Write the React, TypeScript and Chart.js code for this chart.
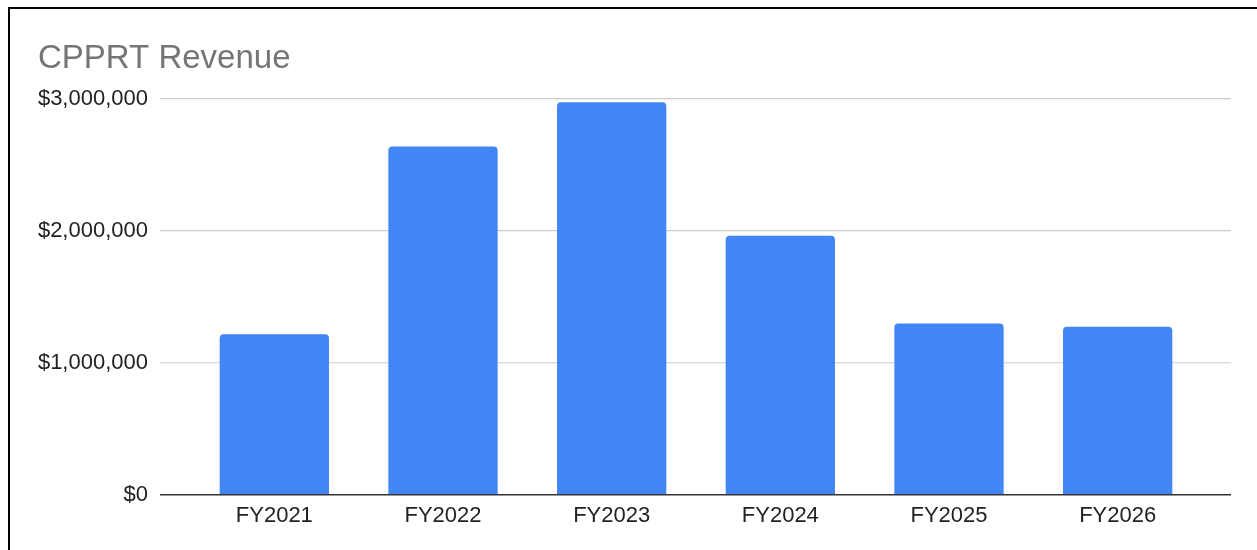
import React, { useEffect, useRef } from "react";
import { Chart, registerables } from "chart.js";

Chart.register(...registerables);

const categories = ["FY2021", "FY2022", "FY2023", "FY2024", "FY2025", "FY2026"];
const revenue = [1215000, 2637000, 2973000, 1961000, 1298000, 1273000];
const yTicks = [0, 1000000, 2000000, 3000000];

const FONT = "'Liberation Sans', Arial, sans-serif";

const gridPlugin = {
  id: "extendedGrid",
  beforeDatasetsDraw(chart: any) {
    const { ctx, chartArea, scales } = chart;
    const y = scales.y;
    ctx.save();
    ctx.strokeStyle = "#cccccc";
    ctx.lineWidth = 1.2;
    y.ticks.forEach((t: any) => {
      if (t.value === 0) return;
      const py = y.getPixelForValue(t.value);
      ctx.beginPath();
      ctx.moveTo(chartArea.left - 30, py);
      ctx.lineTo(chartArea.right + 29, py);
      ctx.stroke();
    });
    ctx.restore();
  },
  afterDatasetsDraw(chart: any) {
    const { ctx, chartArea, scales } = chart;
    const py = scales.y.getPixelForValue(0);
    ctx.save();
    ctx.strokeStyle = "#333333";
    ctx.lineWidth = 1.5;
    ctx.beginPath();
    ctx.moveTo(chartArea.left - 30, py);
    ctx.lineTo(chartArea.right + 29, py);
    ctx.stroke();
    ctx.restore();
  },
};

export default function App() {
  const ref = useRef<HTMLCanvasElement | null>(null);

  useEffect(() => {
    if (!ref.current) return;
    const chart = new Chart(ref.current, {
      type: "bar",
      data: {
        labels: categories,
        datasets: [
          {
            label: "Revenue",
            data: revenue,
            backgroundColor: "#4285F4",
            borderRadius: { topLeft: 4, topRight: 4, bottomLeft: 0, bottomRight: 0 },
            borderSkipped: "bottom",
            barPercentage: 0.648,
            categoryPercentage: 1,
          },
        ],
      },
      options: {
        animation: false,
        responsive: false,
        maintainAspectRatio: false,
        layout: { padding: { left: 28, right: 55, top: 22, bottom: 5 } },
        plugins: {
          legend: { display: false },
          tooltip: { enabled: false },
          title: {
            display: true,
            text: "CPPRT Revenue",
            align: "start",
            color: "#757575",
            font: { family: FONT, size: 33, weight: "normal" },
            padding: { top: 8, bottom: 20 },
          },
        },
        scales: {
          x: {
            grid: { display: false, drawTicks: false },
            border: { display: false },
            ticks: {
              color: "#222222",
              font: { family: FONT, size: 22 },
              padding: 8,
            },
          },
          y: {
            min: 0,
            max: 3000000,
            grid: { display: false, drawTicks: false },
            border: { display: false },
            afterFit: (scale: any) => {
              scale.width = 152;
            },
            afterBuildTicks: (scale: any) => {
              scale.ticks = yTicks.map((v) => ({ value: v }));
            },
            ticks: {
              color: "#222222",
              font: { family: FONT, size: 22 },
              padding: 42,
              callback: (v: any) => "$" + Number(v).toLocaleString("en-US"),
            },
          },
        },
      },
      plugins: [gridPlugin],
    });
    return () => chart.destroy();
  }, []);

  return (
    <div
      style={{
        position: "absolute",
        left: 8,
        top: 7,
        width: 1249,
        height: 543,
        borderTop: "2px solid #000",
        borderLeft: "2px solid #000",
        boxSizing: "border-box",
        background: "#fff",
      }}
    >
      <canvas ref={ref} width={1247} height={541} style={{ display: "block" }} />
    </div>
  );
}
